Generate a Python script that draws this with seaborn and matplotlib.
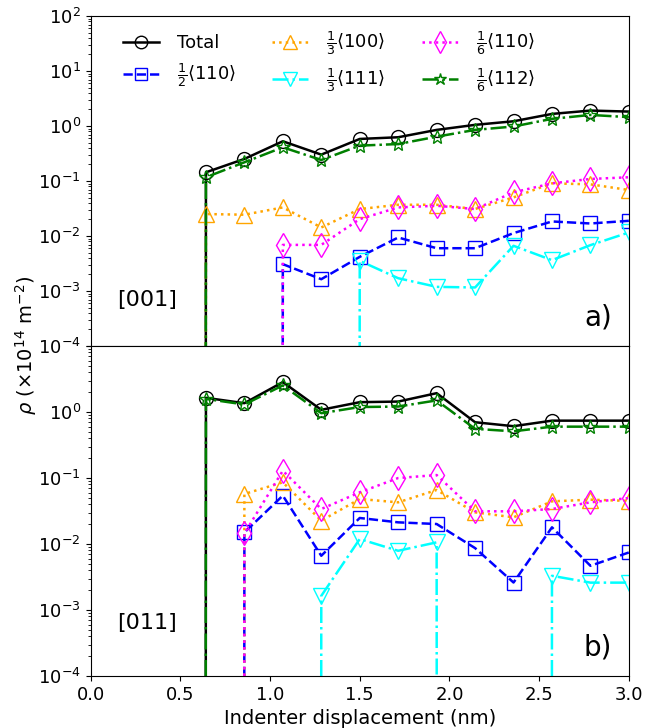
import numpy as np
import pandas as pd
import matplotlib
matplotlib.use("Agg")
import matplotlib.pyplot as plt
import seaborn as sns

# ---------------- data ----------------
x_disp = [0.0, 0.2143, 0.4286, 0.6429, 0.8571, 1.0714, 1.2857, 1.5,
          1.7143, 1.9286, 2.1429, 2.3571, 2.5714, 2.7857, 3.0]

# panel a) [001]
total_a = [0, 0, 0, 0.144, 0.252, 0.528, 0.302, 0.582, 0.625, 0.85, 1.05, 1.22, 1.66, 1.91, 1.83]
half110_a = [0, 0, 0, 0, 0, 0.00308, 0.00164, 0.00418, 0.0094, 0.0060, 0.0060, 0.0113, 0.0184, 0.0169, 0.0189]
third100_a = [0, 0, 0, 0.0251, 0.0244, 0.0331, 0.0143, 0.0309, 0.037, 0.037, 0.031, 0.0504, 0.0907, 0.087, 0.0686]
third111_a = [0, 0, 0, 0, 0, 0, 0, 0.00354, 0.00171, 0.00119, 0.00116, 0.00664, 0.00364, 0.00683, 0.0116]
sixth110_a = [0, 0, 0, 0, 0, 0.0069, 0.0069, 0.0203, 0.0331, 0.0355, 0.0309, 0.0622, 0.0907, 0.109, 0.117]
sixth112_a = [0, 0, 0, 0.117, 0.219, 0.41, 0.241, 0.44, 0.47, 0.64, 0.85, 0.98, 1.35, 1.59, 1.45]

# panel b) [011]
total_b = [0, 0, 0, 1.64, 1.36, 2.84, 1.08, 1.41, 1.44, 1.93, 0.70, 0.61, 0.74, 0.74, 0.74]
half110_b = [0, 0, 0, 0, 0.0150, 0.0541, 0.00664, 0.0248, 0.0213, 0.0201, 0.00867, 0.00261, 0.0179, 0.00468, 0.00745]
third100_b = [0, 0, 0, 0, 0.0573, 0.0861, 0.0226, 0.0481, 0.0428, 0.0659, 0.0302, 0.0254, 0.0443, 0.0470, 0.0450]
third111_b = [0, 0, 0, 0, 0, 0, 0.00164, 0.0119, 0.0079, 0.0106, 0, 0, 0.0033, 0.0026, 0.0026]
sixth110_b = [0, 0, 0, 0, 0.0145, 0.129, 0.0339, 0.0607, 0.100, 0.111, 0.0313, 0.0313, 0.0339, 0.0428, 0.0498]
sixth112_b = [0, 0, 0, 1.58, 1.30, 2.53, 0.96, 1.19, 1.21, 1.50, 0.556, 0.51, 0.60, 0.60, 0.60]

labels = ["Total",
          r"$\frac{1}{2}\langle110\rangle$",
          r"$\frac{1}{3}\langle100\rangle$",
          r"$\frac{1}{3}\langle111\rangle$",
          r"$\frac{1}{6}\langle110\rangle$",
          r"$\frac{1}{6}\langle112\rangle$"]

styles = [
    dict(color="black", linestyle="-", marker="o", markersize=10),
    dict(color="blue", linestyle="--", marker="s", markersize=10),
    dict(color="orange", linestyle=":", marker="^", markersize=11),
    dict(color="cyan", linestyle="-.", marker="v", markersize=11),
    dict(color="magenta", linestyle=":", marker="d", markersize=12),
    dict(color="green", linestyle="-.", marker="*", markersize=10),
]

plt.rcParams["font.size"] = 13
plt.rcParams["mathtext.fontset"] = "dejavusans"

fig, axes = plt.subplots(2, 1, sharex=True, figsize=(6.47, 7.28), dpi=100,
                         gridspec_kw=dict(hspace=0))
fig.subplots_adjust(left=0.140, right=0.972, top=0.978, bottom=0.0714)

panels = [
    (axes[0], [total_a, half110_a, third100_a, third111_a, sixth110_a, sixth112_a], "[001]", "a)", (1e-4, 1e2), 0.139),
    (axes[1], [total_b, half110_b, third100_b, third111_b, sixth110_b, sixth112_b], "[011]", "b)", (1e-4, 1e1), 0.16),
]

for i, (ax, series, tag, letter, ylim, ty) in enumerate(panels):
    for vals, lab, st in zip(series, labels, styles):
        sns.lineplot(x=x_disp, y=vals, ax=ax, label=lab if i == 0 else None,
                     color=st["color"], linestyle=st["linestyle"], linewidth=1.8,
                     marker=st["marker"], markersize=st["markersize"],
                     markerfacecolor="none", markeredgecolor=st["color"],
                     markeredgewidth=1.0, legend=False, sort=False,
                     estimator=None)
    ax.set_yscale("log")
    ax.set_ylim(*ylim)
    ax.set_xlim(0, 3.0)
    ax.set_ylabel("")
    ax.tick_params(axis="both", which="major", labelsize=13)
    ax.text(0.05, ty, tag, transform=ax.transAxes,
            fontsize=16, ha="left", va="center")
    ax.text(0.969, 0.087, letter, transform=ax.transAxes,
            fontsize=20, ha="right", va="center")

axes[0].set_yticks([1e-4, 1e-3, 1e-2, 1e-1, 1e0, 1e1, 1e2])
axes[1].set_yticks([1e-4, 1e-3, 1e-2, 1e-1, 1e0, 1e1])
axes[1].set_yticklabels(["$\\mathdefault{10^{-4}}$", "$\\mathdefault{10^{-3}}$",
                         "$\\mathdefault{10^{-2}}$", "$\\mathdefault{10^{-1}}$",
                         "$\\mathdefault{10^{0}}$", ""])
axes[1].set_xticks([0.0, 0.5, 1.0, 1.5, 2.0, 2.5, 3.0])
axes[1].set_xticklabels(["0.0", "0.5", "1.0", "1.5", "2.0", "2.5", "3.0"])
axes[1].set_xlabel("Indenter displacement (nm)", fontsize=14)
axes[0].tick_params(axis="x", which="both", bottom=False)

handles, labs = axes[0].get_legend_handles_labels()
axes[0].legend(handles, labs, ncol=3, loc="upper left", frameon=False,
               fontsize=13, handlelength=2.0, handletextpad=1.0,
               columnspacing=2.0, markerscale=0.9,
               bbox_to_anchor=(0.03, 1.009))

fig.text(0.02, 0.526, r"$\rho$ ($\times 10^{14}$ m$^{-2}$)", rotation=90,
         ha="left", va="center", fontsize=14)

fig.savefig("out.png", dpi=100)
